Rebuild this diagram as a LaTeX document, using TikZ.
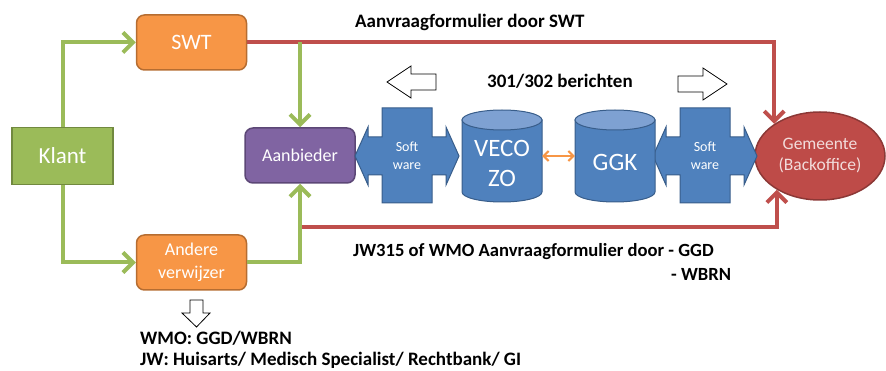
\documentclass[tikz,border=0pt]{standalone}
\usepackage{fontspec}
\setmainfont{Carlito}
\usetikzlibrary{arrows.meta,shapes.geometric}

\definecolor{greenF}{HTML}{9BBB59}
\definecolor{greenD}{HTML}{71893F}
\definecolor{orangeF}{HTML}{F79646}
\definecolor{orangeD}{HTML}{B66D31}
\definecolor{purpleF}{HTML}{8064A2}
\definecolor{purpleD}{HTML}{5C4776}
\definecolor{blueF}{HTML}{4F81BD}
\definecolor{blueD}{HTML}{385D8A}
\definecolor{blueTop}{HTML}{7EA1D2}
\definecolor{redF}{HTML}{BE4B48}
\definecolor{redD}{HTML}{8C3836}
\definecolor{redLine}{HTML}{BF4F4C}
\definecolor{paleText}{HTML}{F2DCDB}

\begin{document}
\begin{tikzpicture}[x=1pt,y=-1pt,
  every node/.style={inner sep=0pt},
  boxlabel/.style={text=white, align=center, font=\fontsize{18}{23}\selectfont},
  greenbox/.style={draw=greenD, fill=greenF, line width=1.5pt,
    minimum width=101pt, minimum height=57pt, boxlabel},
  orangebox/.style={draw=orangeD, fill=orangeF, line width=1.5pt, rounded corners=8pt,
    minimum width=110pt, minimum height=55pt, boxlabel},
  purplebox/.style={draw=purpleD, fill=purpleF, line width=1.5pt, rounded corners=8pt,
    minimum width=110pt, minimum height=55pt, boxlabel},
  holder/.style={minimum width=80pt, minimum height=92pt, text=white, align=center},
  swlabel/.style={minimum width=50pt, minimum height=95pt, text=white, align=center,
    font=\fontsize{14}{18}\selectfont},
  greenflow/.style={draw=greenF, line width=4pt, -{Straight Barb[length=10pt,width=20pt]}},
  redflow/.style={draw=redLine, line width=4pt, -{Straight Barb[length=10pt,width=20pt]}},
  openarrow/.style={draw=black, fill=white, line width=0.8pt, line join=miter},
  caption/.style={font=\bfseries\fontsize{19}{23}\selectfont, anchor=base west},
  swcross/.pic={
    \draw[fill=blueF, draw=blueD, line width=1pt]
      (-52,0) -- (-39,-29) -- (-39,-19) -- (-25,-19) -- (-25,-48) -- (25,-48)
      -- (25,-19) -- (39,-19) -- (39,-29) -- (52,0) -- (39,29) -- (39,19)
      -- (25,19) -- (25,47) -- (-25,47) -- (-25,19) -- (-39,19) -- (-39,29) -- cycle;
  },
  dbcyl/.pic={
    \draw[fill=blueF, draw=blueD, line width=1pt]
      (-40,-36) -- (-40,36) arc[start angle=180, end angle=0, x radius=40, y radius=10]
      -- (40,-36) -- cycle;
    \draw[fill=blueTop, draw=blueD, line width=1pt] (0,-36) ellipse [x radius=40, y radius=10];
  },
  rightarrow/.pic={
    \draw[openarrow] (0,-8) -- (25,-8) -- (25,-16) -- (49,0) -- (25,16) -- (25,8) -- (0,8) -- cycle;
  }
]
\useasboundingbox (0,0) rectangle (886,371);

% main boxes
\node[greenbox, font=\fontsize{23}{27}\selectfont] (klant) at (62.5,156) {Klant};
\node[orangebox, font=\fontsize{22}{26}\selectfont] (swt) at (191.5,42.5) {SWT};
\node[orangebox] (andere) at (191.5,262.5) {Andere\\verwijzer};
\node[purplebox] (aanbieder) at (300,155.5) {Aanbieder};
\node[ellipse, draw=redD, fill=redF, line width=1.5pt, minimum width=130pt,
  minimum height=88pt, text=paleText, align=center,
  font=\fontsize{17.5}{21}\selectfont] (gemeente) at (820,156) {Gemeente\\(Backoffice)};

% software bridges and databases
\pic at (407,156) {swcross};
\node[swlabel] (swleft) at (407,156) {Soft\\ware};
\pic at (705,156) {swcross};
\node[swlabel] (swright) at (705,156) {Soft\\ware};

\pic at (502,156) {dbcyl};
\node[holder] (vecozo) at (502,156) {};
\node[text=white, align=center, font=\fontsize{25}{30}\selectfont] at (502,163) {VECO\\ZO};
\pic at (615,156) {dbcyl};
\node[holder] (ggk) at (615,156) {};
\node[text=white, font=\fontsize{25}{30}\selectfont] at (615,162) {GGK};

\draw[draw=orangeF, line width=2pt, {Straight Barb[length=5pt,width=10pt]}-{Straight Barb[length=5pt,width=10pt]}]
  (vecozo.east) -- (ggk.west);

% flows
\coordinate (tap) at (aanbieder.north |- swt.east);
\coordinate (split) at (aanbieder.south |- 0,227);
\draw[redflow] (swt.east) -| (gemeente.145);
\draw[redflow] (split) -| (gemeente.218);
\draw[greenflow] (klant.north) |- (swt.west);
\draw[greenflow] (klant.south) |- (andere.west);
\draw[greenflow] (tap) -- (aanbieder.north);
\draw[greenflow] (andere.east) -| (aanbieder.south);

% direction markers
\pic[rotate=180] at (436,82) {rightarrow};
\pic at (678,84) {rightarrow};
\draw[openarrow] (190,300) -- (203,300) -- (203,313) -- (210,313) -- (196.5,327)
  -- (182,313) -- (190,313) -- cycle;

% captions
\node[caption] (capswt) at (355,28) {Aanvraagformulier door SWT};
\node[caption] (capmsg) at (487,88) {301/302 berichten};
\node[caption, font=\bfseries\fontsize{18.6}{23}\selectfont] (capjw) at (353,257) {JW315 of WMO Aanvraagformulier door - GGD};
\node[caption, font=\bfseries\fontsize{18.6}{23}\selectfont] (capwbrn) at (671,280) {- WBRN};
\node[caption] (capwmo) at (140,344) {WMO: GGD/WBRN};
\node[caption] (caphuis) at (140,365.5) {JW: Huisarts/ Medisch Specialist/ Rechtbank/ GI};
\end{tikzpicture}
\end{document}
